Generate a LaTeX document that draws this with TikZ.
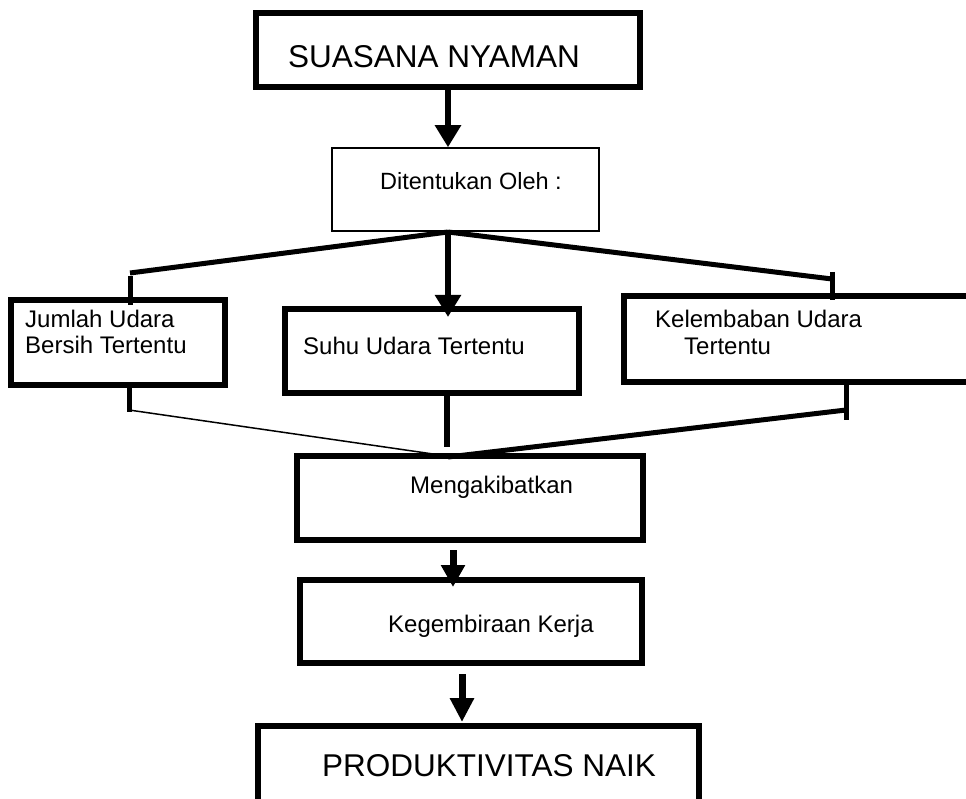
\documentclass[tikz,border=0pt]{standalone}
\usepackage{fontspec}
\setmainfont{Liberation Sans}
\usetikzlibrary{arrows.meta}
\begin{document}
\begin{tikzpicture}[x=1pt,y=-1pt,
  frame/.style={draw=black, rectangle, inner sep=0pt, line width=6pt},
  thinframe/.style={draw=black, rectangle, inner sep=0pt, line width=1.5pt},
  txt/.style={anchor=base west, inner sep=0pt, font=\fontsize{24pt}{28pt}\selectfont},
  bigtxt/.style={anchor=base west, inner sep=0pt, font=\fontsize{31.5pt}{36pt}\selectfont},
  bar/.style={line width=5pt, line cap=butt},
  thinbar/.style={line width=1.5pt},
  down/.style={line width=#1, -{Triangle[width=25pt,length=22pt]}},
  down/.default=6pt
]
\useasboundingbox (0,0) rectangle (966,799);
\clip (0,0) rectangle (966,799);

% boxes
\node[frame, minimum width=384pt, minimum height=74pt] (top) at (448,50) {};
\node[thinframe, minimum width=267pt, minimum height=83pt] (det) at (465.5,189.5) {};
\node[frame, line width=5.5pt, minimum width=214pt, minimum height=85pt] (jum) at (118,342.5) {};
\node[frame, minimum width=294pt, minimum height=84pt] (suhu) at (432,351) {};
\node[frame, minimum width=376pt, minimum height=86pt] (kel) at (812,339) {};
\node[frame, minimum width=346pt, minimum height=84pt] (akibat) at (470,498) {};
\node[frame, line width=5.5pt, minimum width=342pt, minimum height=83pt] (gembira) at (471,621.5) {};
\node[frame, minimum width=441pt, minimum height=104pt] (prod) at (478.5,778) {};

% labels
\node[bigtxt] (tTop) at (288,68) {SUASANA NYAMAN};
\node[txt, font=\fontsize{23.5pt}{28pt}\selectfont] (tDet) at (380,190) {Ditentukan Oleh :};
\node[txt] (tJum1) at (25,327) {Jumlah Udara};
\node[txt] (tJum2) at (25,354) {Bersih Tertentu};
\node[txt] (tSuhu) at (303,355) {Suhu Udara Tertentu};
\node[txt] (tKel1) at (655,327) {Kelembaban Udara};
\node[txt] (tKel2) at (684,355) {Tertentu};
\node[txt] (tAkibat) at (410,493) {Mengakibatkan};
\node[txt] (tGembira) at (388,632) {Kegembiraan Kerja};
\node[bigtxt] (tProd) at (322,776) {PRODUKTIVITAS NAIK};

% junction points
\coordinate (split) at (448,232);
\coordinate (jL) at (130,273);
\coordinate (jLa) at (130,276);
\coordinate (jLb) at (130,305);
\coordinate (jR) at (832,279);
\coordinate (jRa) at (832,272);
\coordinate (jRb) at (832,300);
\coordinate (suhuIn) at (448,317);
\coordinate (bLa) at (129,388);
\coordinate (bLb) at (129,412);
\coordinate (bL) at (129,410);
\coordinate (meetL) at (440,455);
\coordinate (bMa) at (447,396);
\coordinate (bMb) at (447,447);
\coordinate (bRa) at (846,385);
\coordinate (bRb) at (846,420);
\coordinate (bR) at (846,410);
\coordinate (meetR) at (448,457);
\coordinate (a2s) at (453,550);
\coordinate (a2e) at (453,587);
\coordinate (a3s) at (462,674);
\coordinate (a3e) at (462,722);

% connectors
\draw[down] (top.south) -- (split |- det.north);
\draw[bar] (split) -- (jL);
\draw[bar] (jLa) -- (jLb);
\draw[bar] (split) -- (jR);
\draw[bar] (jRa) -- (jRb);
\draw[down] (split) -- (suhuIn);

\draw[bar] (bLa) -- (bLb);
\draw[thinbar] (bL) -- (meetL);
\draw[line width=6pt] (bMa) -- (bMb);
\draw[bar] (bRa) -- (bRb);
\draw[bar] (bR) -- (meetR);

\draw[line width=7pt, -{Triangle[width=23pt,length=22pt]}] (a2s) -- (a2e);
\draw[line width=7pt, -{Triangle[width=23pt,length=24pt]}] (a3s) -- (a3e);
\end{tikzpicture}
\end{document}
